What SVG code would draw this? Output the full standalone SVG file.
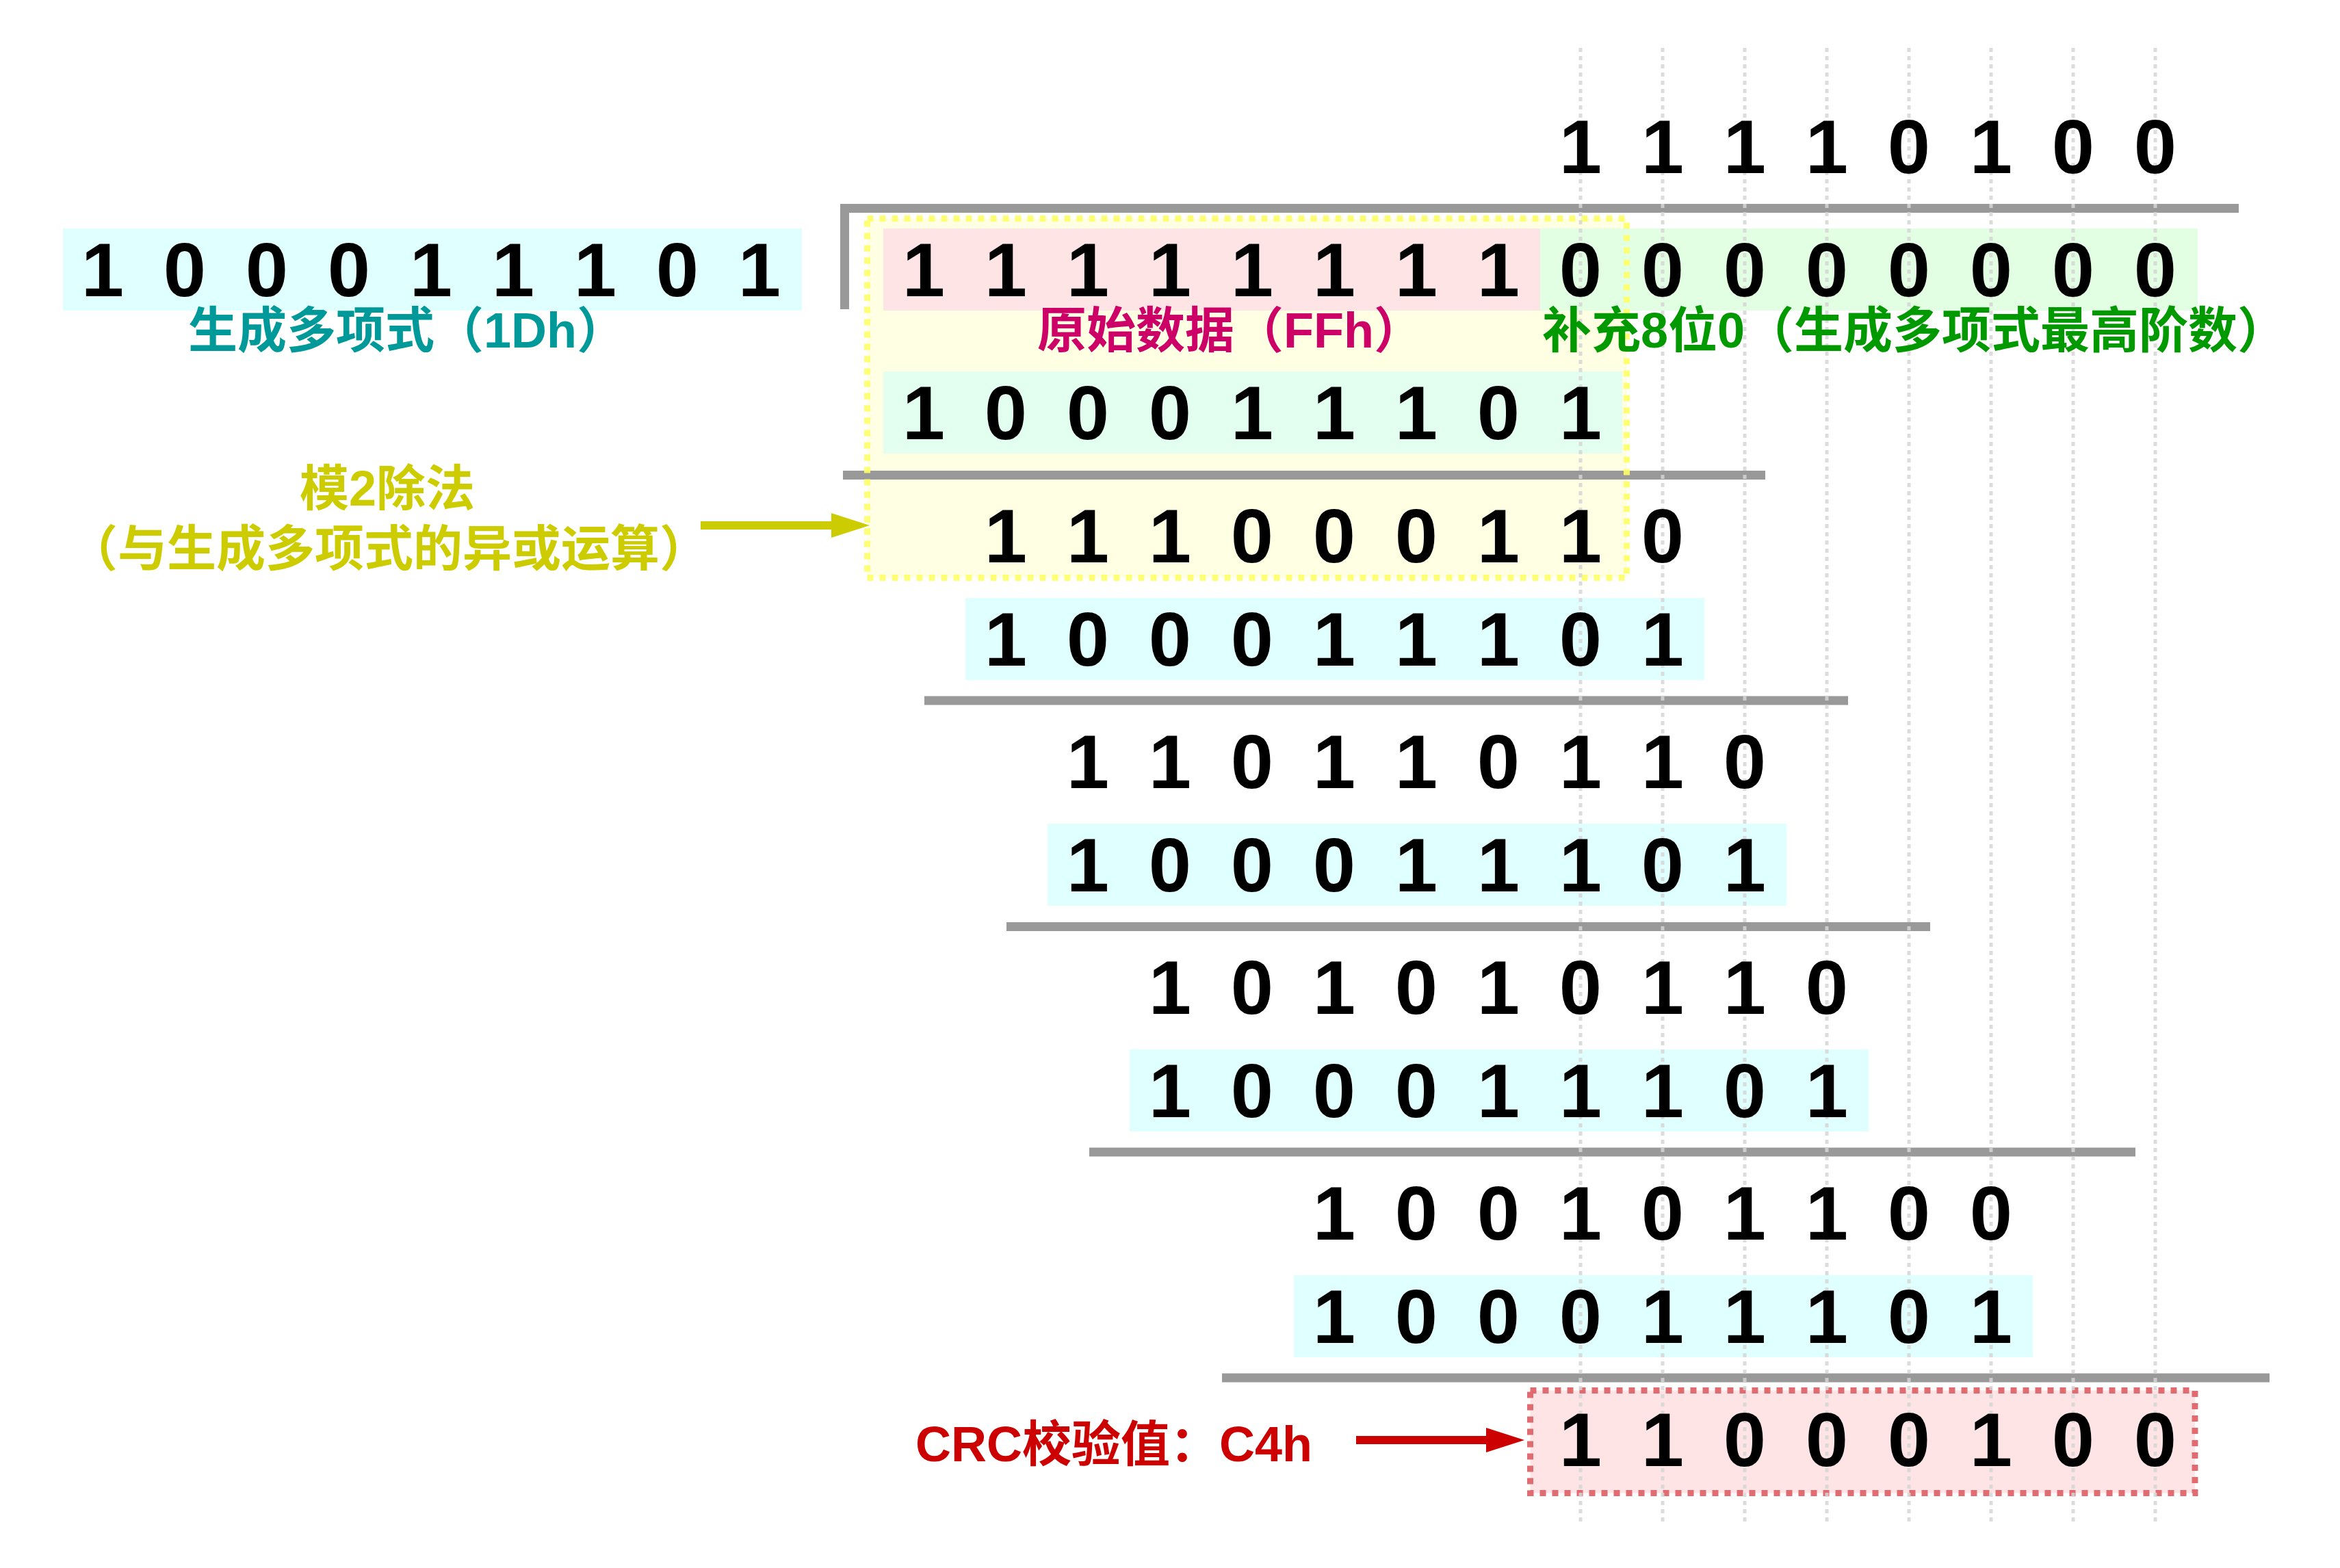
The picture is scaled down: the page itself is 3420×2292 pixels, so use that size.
<svg xmlns="http://www.w3.org/2000/svg" width="3420" height="2292" viewBox="0 0 3420 2292">
<defs>
<style>
.d{font-family:"Liberation Sans",Arial,sans-serif;font-weight:bold;font-size:112px;fill:#000;text-anchor:middle}
.lb{font-family:"Liberation Sans","Noto Sans CJK SC",sans-serif;font-weight:bold;font-size:72px}
.rule{stroke:#999;stroke-width:13;fill:none}
.cy{fill:#e0ffff}
.grid{stroke:#d6d6d6;stroke-width:5;stroke-dasharray:6 6;opacity:0.85}
</style>
<marker id="ahY" markerUnits="userSpaceOnUse" markerWidth="56" markerHeight="36" refX="0" refY="18" orient="auto"><path d="M0,0 L56,18 L0,36 z" fill="#cccc00"/></marker>
<marker id="ahR" markerUnits="userSpaceOnUse" markerWidth="56" markerHeight="36" refX="0" refY="18" orient="auto"><path d="M0,0 L56,18 L0,36 z" fill="#cc0000"/></marker>
</defs>
<rect width="3420" height="2292" fill="#fff"/>

<!-- yellow highlight box fill -->
<rect x="1267.5" y="319.5" width="1110" height="525" fill="#ffffe3"/>

<g id="generator">
<rect class="cy" x="92" y="334" width="1080" height="120"/>
<text class="d" x="150 270 390 510 630 750 870 990 1110" y="433">100011101</text>
</g>

<g id="dividend">
<rect x="1291" y="334" width="960" height="120" fill="#ffe4e6"/>
<rect x="2251" y="334" width="961" height="120" fill="#e3ffe3"/>
</g>

<g id="step1-gen">
<rect x="1291" y="543" width="1080" height="120" fill="#e2fff0"/>
</g>
<g id="step2-gen"><rect class="cy" x="1411" y="874" width="1080" height="120"/></g>
<g id="step3-gen"><rect class="cy" x="1531" y="1204" width="1080" height="120"/></g>
<g id="step4-gen"><rect class="cy" x="1651" y="1534" width="1080" height="120"/></g>
<g id="step5-gen"><rect class="cy" x="1891" y="1864" width="1080" height="120"/></g>

<g id="crc-box">
<rect x="2236.5" y="2032.5" width="971.5" height="150" fill="#ffe4e6" stroke="#e06c72" stroke-width="9" stroke-dasharray="9 9"/>
</g>

<g id="bracket">
<path class="rule" d="M1234.5,452 V304.5 H3272"/>
</g>
<g id="rules">
<line class="rule" x1="1232" y1="694.5" x2="2580" y2="694.5"/>
<line class="rule" x1="1351" y1="1024" x2="2701" y2="1024"/>
<line class="rule" x1="1471" y1="1354.5" x2="2821" y2="1354.5"/>
<line class="rule" x1="1592" y1="1684" x2="3121" y2="1684"/>
<line class="rule" x1="1786" y1="2014" x2="3317" y2="2014"/>
</g>

<!-- yellow dashed outline -->
<rect x="1267.5" y="319.5" width="1110" height="525" fill="none" stroke="#ffff66" stroke-width="9" stroke-dasharray="9 9" opacity="0.9"/>

<g id="grid">
<line class="grid" x1="2310" y1="70" x2="2310" y2="2224"/>
<line class="grid" x1="2430" y1="70" x2="2430" y2="2224"/>
<line class="grid" x1="2550" y1="70" x2="2550" y2="2224"/>
<line class="grid" x1="2670" y1="70" x2="2670" y2="2224"/>
<line class="grid" x1="2790" y1="70" x2="2790" y2="2224"/>
<line class="grid" x1="2910" y1="70" x2="2910" y2="2224"/>
<line class="grid" x1="3030" y1="70" x2="3030" y2="2224"/>
<line class="grid" x1="3150" y1="70" x2="3150" y2="2224"/>
</g>

<g id="quotient">
<text class="d" x="2310 2430 2550 2670 2790 2910 3030 3150" y="253">11110100</text>
</g>
<g id="dividend-digits">
<text class="d" x="1350 1470 1590 1710 1830 1950 2070 2190 2310 2430 2550 2670 2790 2910 3030 3150" y="433">1111111100000000</text>
</g>
<g id="step1">
<text class="d" x="1350 1470 1590 1710 1830 1950 2070 2190 2310" y="642">100011101</text>
</g>
<g id="rem1">
<text class="d" x="1470 1590 1710 1830 1950 2070 2190 2310 2430" y="822">111000110</text>
</g>
<g id="step2">
<text class="d" x="1470 1590 1710 1830 1950 2070 2190 2310 2430" y="973">100011101</text>
</g>
<g id="rem2">
<text class="d" x="1590 1710 1830 1950 2070 2190 2310 2430 2550" y="1152">110110110</text>
</g>
<g id="step3">
<text class="d" x="1590 1710 1830 1950 2070 2190 2310 2430 2550" y="1303">100011101</text>
</g>
<g id="rem3">
<text class="d" x="1710 1830 1950 2070 2190 2310 2430 2550 2670" y="1482">101010110</text>
</g>
<g id="step4">
<text class="d" x="1710 1830 1950 2070 2190 2310 2430 2550 2670" y="1633">100011101</text>
</g>
<g id="rem4">
<text class="d" x="1950 2070 2190 2310 2430 2550 2670 2790 2910" y="1812">100101100</text>
</g>
<g id="step5">
<text class="d" x="1950 2070 2190 2310 2430 2550 2670 2790 2910" y="1963">100011101</text>
</g>
<g id="crc">
<text class="d" x="2310 2430 2550 2670 2790 2910 3030 3150" y="2143">11000100</text>
</g>

<g id="label-generator"><text class="lb" x="275" y="508" fill="#009999">生成多项式（1Dh）</text></g>
<g id="label-data"><text class="lb" x="1516" y="508" fill="#cc0066">原始数据（FFh）</text></g>
<g id="label-pad"><text class="lb" x="2254" y="508" fill="#009900">补充8位0（生成多项式最高阶数）</text></g>
<g id="label-mod2">
<text class="lb" x="566" y="739" fill="#cccc00" text-anchor="middle">模2除法</text>
<text class="lb" x="568" y="827" fill="#cccc00" text-anchor="middle">（与生成多项式的异或运算）</text>
</g>
<g id="label-crc"><text class="lb" x="1338" y="2136" fill="#cc0000">CRC校验值：C4h</text></g>

<g id="connectors">
<line x1="1024" y1="768" x2="1215" y2="768" stroke="#cccc00" stroke-width="12" marker-end="url(#ahY)"/>
<line x1="1982" y1="2105" x2="2172" y2="2105" stroke="#cc0000" stroke-width="12" marker-end="url(#ahR)"/>
</g>
</svg>
